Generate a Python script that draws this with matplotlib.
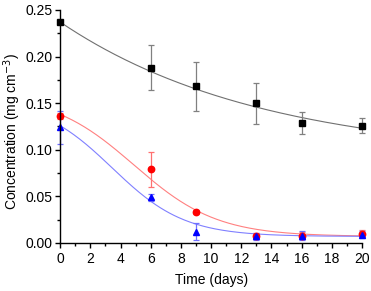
import numpy as np
import matplotlib
matplotlib.use("Agg")
import matplotlib.pyplot as plt
from matplotlib.ticker import MultipleLocator

plt.rcParams['font.family'] = ['Liberation Sans', 'DejaVu Sans']

# measured data
days = [0, 6, 9, 13, 16, 20]
black_conc = [0.237, 0.188, 0.168, 0.150, 0.129, 0.126]
black_err = [0.0, 0.024, 0.026, 0.022, 0.012, 0.008]
red_conc = [0.136, 0.079, 0.033, 0.008, 0.008, 0.010]
red_err = [0.003, 0.019, 0.002, 0.003, 0.004, 0.004]
blue_conc = [0.124, 0.049, 0.012, 0.007, 0.008, 0.009]
blue_err = [0.018, 0.004, 0.009, 0.004, 0.005, 0.004]

# fit parameters
black_fit = dict(y0=0.090, A=0.147, t=13.4)          # exponential decay
red_fit = dict(A1=0.160, A2=0.007, x0=4.9, dx=2.75)   # Boltzmann
blue_fit = dict(A1=0.154, A2=0.007, x0=3.45, dx=2.4)


def expdec(x, y0, A, t):
    return y0 + A * np.exp(-x / t)


def boltzmann(x, A1, A2, x0, dx):
    return A2 + (A1 - A2) / (1 + np.exp((x - x0) / dx))


xs = np.linspace(0, 20, 200)

fig = plt.figure(figsize=(3.71, 2.91), dpi=100)
ax = fig.add_axes([0.162, 0.165, 0.814, 0.801])

ax.plot(xs, expdec(xs, **black_fit), color='#707070', lw=0.8)
ax.plot(xs, boltzmann(xs, **red_fit), color='#ff8080', lw=0.8)
ax.plot(xs, boltzmann(xs, **blue_fit), color='#8080ff', lw=0.8)

ax.errorbar(days, black_conc, yerr=black_err, fmt='s', color='black', ms=4.2,
            ecolor='#808080', elinewidth=0.9, capsize=2, capthick=0.9, clip_on=False)
ax.errorbar(days, red_conc, yerr=red_err, fmt='o', color='#ff0000', ms=4.6,
            ecolor='#ff7070', elinewidth=0.9, capsize=2, capthick=0.9, clip_on=False)
ax.errorbar(days, blue_conc, yerr=blue_err, fmt='^', color='#0000ff', ms=5,
            ecolor='#7070ff', elinewidth=0.9, capsize=2, capthick=0.9, clip_on=False)

ax.set_xlim(0, 20)
ax.set_ylim(0, 0.25)
ax.xaxis.set_major_locator(MultipleLocator(2))
ax.xaxis.set_minor_locator(MultipleLocator(1))
ax.yaxis.set_major_locator(MultipleLocator(0.05))
ax.yaxis.set_minor_locator(MultipleLocator(0.025))
ax.yaxis.set_major_formatter(plt.FormatStrFormatter('%.2f'))

for side in ['top', 'right']:
    ax.spines[side].set_visible(False)
for side in ['left', 'bottom']:
    ax.spines[side].set_linewidth(1.0)

ax.tick_params(which='major', direction='out', length=3.7, width=1, labelsize=10)
ax.tick_params(axis='x', which='major', pad=3)
ax.tick_params(axis='y', which='major', pad=2)
ax.tick_params(which='minor', direction='out', length=2, width=1)

ax.set_xlabel('Time (days)', fontsize=10)
ax.set_ylabel('Concentration (mg cm$^{-3}$)', fontsize=10)
ax.xaxis.set_label_coords(0.5, -0.128)
ax.yaxis.set_label_coords(-0.124, 0.48)

fig.savefig('out.png', dpi=100)
